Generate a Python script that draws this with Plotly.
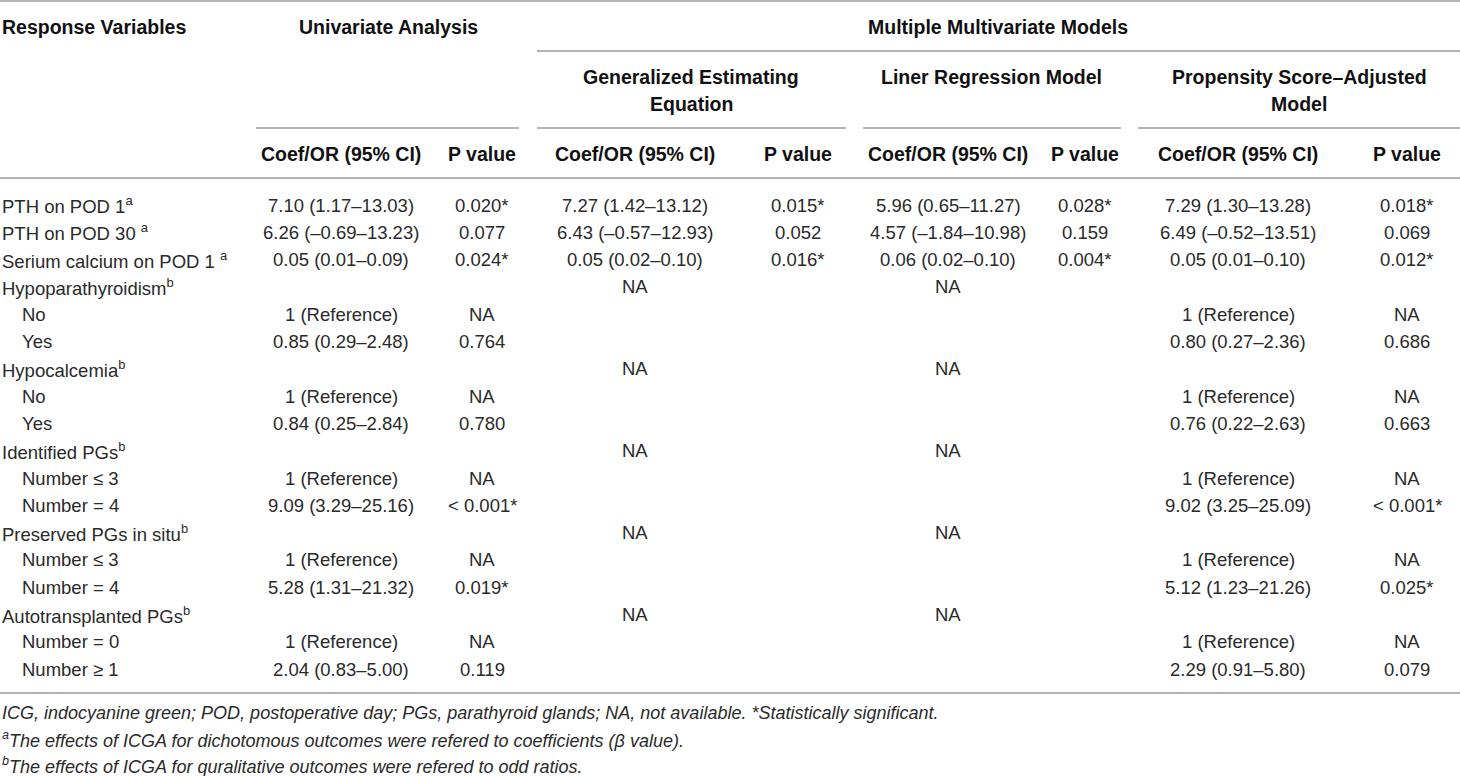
from plotly import graph_objects as go

# Table content
# ~~~~~~~~~~~~~~~~~~~~~~~~~~~~~~~~~~~~~~~~~~~~~~~~~~~~~~~~~~~~~~~~~~~~~~~~~~~~~~~~~~~~~~~~
row_labels = [
    "PTH on POD 1<sup>a</sup>", "PTH on POD 30 <sup>a</sup>", "Serium calcium on POD 1 <sup>a</sup>",
    "Hypoparathyroidism<sup>b</sup>", "No", "Yes",
    "Hypocalcemia<sup>b</sup>", "No", "Yes",
    "Identified PGs<sup>b</sup>", "Number ≤ 3", "Number = 4",
    "Preserved PGs in situ<sup>b</sup>", "Number ≤ 3", "Number = 4",
    "Autotransplanted PGs<sup>b</sup>", "Number = 0", "Number ≥ 1",
]
row_indent = [0, 0, 0, 0, 1, 1, 0, 1, 1, 0, 1, 1, 0, 1, 1, 0, 1, 1]

uni_coef = ["7.10 (1.17–13.03)", "6.26 (–0.69–13.23)", "0.05 (0.01–0.09)",
            "", "1 (Reference)", "0.85 (0.29–2.48)",
            "", "1 (Reference)", "0.84 (0.25–2.84)",
            "", "1 (Reference)", "9.09 (3.29–25.16)",
            "", "1 (Reference)", "5.28 (1.31–21.32)",
            "", "1 (Reference)", "2.04 (0.83–5.00)"]
uni_p = ["0.020*", "0.077", "0.024*", "", "NA", "0.764", "", "NA", "0.780",
         "", "NA", "< 0.001*", "", "NA", "0.019*", "", "NA", "0.119"]

gee_coef = ["7.27 (1.42–13.12)", "6.43 (–0.57–12.93)", "0.05 (0.02–0.10)",
            "NA", "", "", "NA", "", "", "NA", "", "", "NA", "", "", "NA", "", ""]
gee_p = ["0.015*", "0.052", "0.016*"] + [""] * 15

lrm_coef = ["5.96 (0.65–11.27)", "4.57 (–1.84–10.98)", "0.06 (0.02–0.10)",
            "NA", "", "", "NA", "", "", "NA", "", "", "NA", "", "", "NA", "", ""]
lrm_p = ["0.028*", "0.159", "0.004*"] + [""] * 15

psm_coef = ["7.29 (1.30–13.28)", "6.49 (–0.52–13.51)", "0.05 (0.01–0.10)",
            "", "1 (Reference)", "0.80 (0.27–2.36)",
            "", "1 (Reference)", "0.76 (0.22–2.63)",
            "", "1 (Reference)", "9.02 (3.25–25.09)",
            "", "1 (Reference)", "5.12 (1.23–21.26)",
            "", "1 (Reference)", "2.29 (0.91–5.80)"]
psm_p = ["0.018*", "0.069", "0.012*", "", "NA", "0.686", "", "NA", "0.663",
         "", "NA", "< 0.001*", "", "NA", "0.025*", "", "NA", "0.079"]

footnotes = [
    "<i>ICG, indocyanine green; POD, postoperative day; PGs, parathyroid glands; NA, not available. *Statistically significant.</i>",
    "<i><sup>a</sup>The effects of ICGA for dichotomous outcomes were refered to coefficients (β value).</i>",
    "<i><sup>b</sup>The effects of ICGA for quralitative outcomes were refered to odd ratios.</i>",
]

# Layout constants
# ~~~~~~~~~~~~~~~~~~~~~~~~~~~~~~~~~~~~~~~~~~~~~~~~~~~~~~~~~~~~~~~~~~~~~~~~~~~~~~~~~~~~~~~~
W, H = 1460, 776
FONT = "Liberation Sans, Arial, Helvetica, sans-serif"
TEXT = "#2a2a2a"
HEAD = "#111111"
RULE = "#9a9a9a"

col_x = [341, 482, 635, 798, 948, 1085, 1238, 1407]
columns = [uni_coef, uni_p, gee_coef, gee_p, lrm_coef, lrm_p, psm_coef, psm_p]
row_y0, row_dy = 205, 27.3

fig = go.Figure(layout=go.Layout(
    width=W,
    height=H,
    margin={'l': 0, 'r': 0, 't': 0, 'b': 0},
    paper_bgcolor='white',
    plot_bgcolor='white',
    showlegend=False,
    xaxis={'range': [0, W], 'visible': False, 'fixedrange': True},
    yaxis={'range': [H, 0], 'visible': False, 'fixedrange': True},
))


def add_text(x, y, text, size=18.5, bold=False, anchor='center'):
    colour = TEXT
    if bold:
        text = f"<b>{text}</b>"
        colour = HEAD
    fig.add_annotation(
        x=x, y=y, xref='x', yref='y', text=text, showarrow=False,
        xanchor=anchor, yanchor='middle', borderpad=0,
        font={'family': FONT, 'size': size, 'color': colour},
    )


def add_rule(x0, x1, y):
    fig.add_shape(type='line', xref='x', yref='y', x0=x0, x1=x1, y0=y, y1=y,
                  line={'color': RULE, 'width': 1.6})


# header
add_text(1, 27, "Response Variables", 19.5, True, 'left')
add_text(388, 27, "Univariate Analysis", 19.5, True)
add_text(998, 27, "Multiple Multivariate Models", 19.5, True)
add_text(691, 77, "Generalized Estimating", 19.5, True)
add_text(691, 104, "Equation", 19.5, True)
add_text(991, 77, "Liner Regression Model", 19.5, True)
add_text(1299, 77, "Propensity Score–Adjusted", 19.5, True)
add_text(1299, 104, "Model", 19.5, True)
for i, x in enumerate(col_x):
    add_text(x, 154, "Coef/OR (95% CI)" if i % 2 == 0 else "P value", 19.5, True)

# rules
add_rule(0, W, 1)
add_rule(537, W, 51)
for x0, x1 in [(256, 519), (537, 846), (863, 1121), (1138, W)]:
    add_rule(x0, x1, 128)
add_rule(0, W, 178)
add_rule(0, W, 693)

# body
for r, label in enumerate(row_labels):
    y = row_y0 + r * row_dy
    add_text(1 + 20 * row_indent[r], y, label, anchor='left')
    for x, values in zip(col_x, columns):
        if values[r]:
            add_text(x, y, values[r])

for i, note in enumerate(footnotes):
    add_text(1, 713 + i * 26, note, 18, anchor='left')

# the page body has a default 8px margin; drop it so the figure sits at 0,0
fig.write_html(
    "out.html",
    config={'displayModeBar': False},
    post_script="document.body.style.margin='0';document.body.style.overflow='hidden';",
)
